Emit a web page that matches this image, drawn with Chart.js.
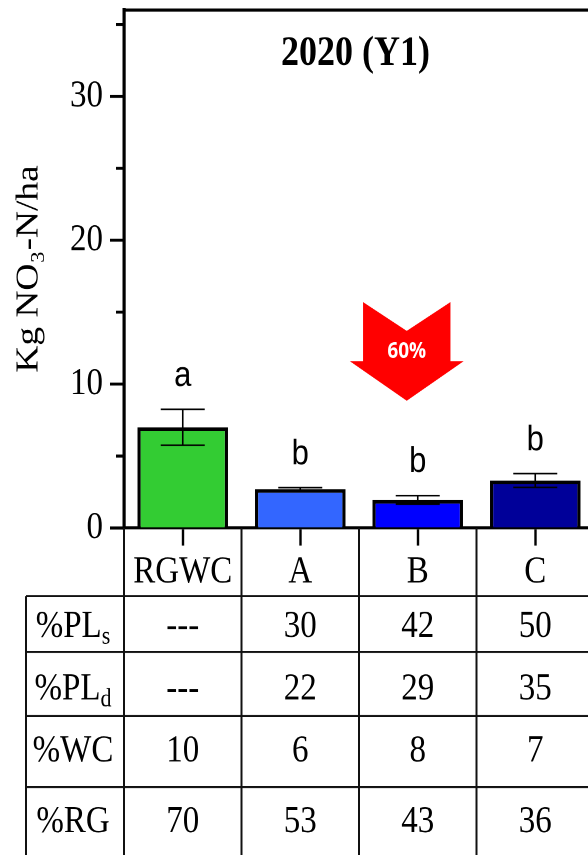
<!DOCTYPE html>
<html><head><meta charset="utf-8">
<script src="https://cdn.jsdelivr.net/npm/chart.js@4.4.1/dist/chart.umd.min.js"></script>
<style>
html,body{margin:0;padding:0;background:#fff;}
body{width:588px;height:855px;overflow:hidden;position:relative;}
#wrap{position:absolute;left:0;top:0;width:620px;height:731px;transform-origin:0 0;transform:scaleY(1.16963);}
</style></head><body>
<div id="wrap"><canvas id="c"></canvas></div>
<script>
// ---- data ----
const categories = ['RGWC', 'A', 'B', 'C'];
const nitrateValues = [7.0, 2.7, 1.95, 3.3];
const nitrateErrors = [1.25, 0.1, 0.3, 0.48];
const significanceLetters = ['a', 'b', 'b', 'b'];
const barColors = ['#33CC33', '#3366FF', '#0000FF', '#000099'];
const yTickValues = [0, 10, 20, 30];
const chartTitle = '2020 (Y1)';
const yAxisTitle = 'Kg NO\u2083-N/ha';
const reductionLabel = '60%';
const tableRowLabels = [['%PL', 's'], ['%PL', 'd'], ['%WC', ''], ['%RG', '']];
const plsRow = ['---', '30', '42', '50'];
const pldRow = ['---', '22', '29', '35'];
const wcRow = ['10', '6', '8', '7'];
const rgRow = ['70', '53', '43', '36'];
const tableRows = [plsRow, pldRow, wcRow, rgRow];

// ---- layout (canvas units) ----
const SERIF = '"Liberation Serif", "Times New Roman", serif';
const SANS = '"Liberation Sans", Arial, sans-serif';
const CANVAS_H = 731;
const PLOT_TOP = 8.55, PLOT_BOTTOM = 451.4;
const TABLE_LEFT = 26;
const ROW_LINES = [509.6, 557.4, 612.2, 672.9];
const ROW_BASELINES = [544.4, 597.9, 651.2, 711.6];
const ROW_LABEL_X = 73;

const frameAndTicks = {
  id: 'frameAndTicks',
  afterDraw(chart) {
    const ctx = chart.ctx, y = chart.scales.y, a = chart.chartArea;
    ctx.save();
    ctx.strokeStyle = '#000';
    ctx.lineWidth = 2.6;
    ctx.beginPath();
    ctx.moveTo(a.left - 1.5, a.top); ctx.lineTo(a.right + 10, a.top);
    for (let v = 0; v <= 35; v += 5) {
      const py = y.getPixelForValue(v);
      const len = yTickValues.includes(v) ? 14 : 8;
      ctx.moveTo(a.left - len, py); ctx.lineTo(a.left, py);
    }
    ctx.stroke();
    // title
    ctx.fillStyle = '#000';
    ctx.font = 'bold 36px ' + SERIF;
    ctx.textAlign = 'center';
    ctx.textBaseline = 'alphabetic';
    ctx.fillText(chartTitle, (a.left + a.right) / 2 - 3.5, 55.6);
    ctx.restore();
  }
};

const errorBars = {
  id: 'errorBars',
  afterDatasetsDraw(chart) {
    const ctx = chart.ctx, meta = chart.getDatasetMeta(0), y = chart.scales.y, x = chart.scales.x;
    ctx.save();
    ctx.strokeStyle = '#000';
    meta.data.forEach((bar, i) => {
      const top = y.getPixelForValue(nitrateValues[i] + nitrateErrors[i]);
      const bot = y.getPixelForValue(nitrateValues[i] - nitrateErrors[i]);
      const hw = 22;
      ctx.lineWidth = 1.6;
      ctx.beginPath();
      ctx.moveTo(bar.x, top); ctx.lineTo(bar.x, bot); ctx.stroke();
      ctx.lineWidth = 1.4;
      ctx.beginPath();
      ctx.moveTo(bar.x - hw, top); ctx.lineTo(bar.x + hw, top);
      ctx.moveTo(bar.x - hw, bot); ctx.lineTo(bar.x + hw, bot);
      ctx.stroke();
      ctx.fillStyle = '#000';
      ctx.font = '31px ' + SANS;
      ctx.textAlign = 'center';
      ctx.textBaseline = 'alphabetic';
      ctx.fillText(significanceLetters[i], bar.x, top - 20);
    });
    // reduction arrow
    const cx = x.getPixelForValue(2) - 11;
    const pTop = y.getPixelForValue(15.7), pNotch = y.getPixelForValue(13.7);
    const pShoulder = y.getPixelForValue(11.6), pTip = y.getPixelForValue(8.84);
    ctx.fillStyle = '#FF0000';
    ctx.beginPath();
    ctx.moveTo(cx - 43.7, pTop);
    ctx.lineTo(cx, pNotch);
    ctx.lineTo(cx + 43.7, pTop);
    ctx.lineTo(cx + 43.7, pShoulder);
    ctx.lineTo(cx + 57, pShoulder);
    ctx.lineTo(cx, pTip);
    ctx.lineTo(cx - 57, pShoulder);
    ctx.lineTo(cx - 43.7, pShoulder);
    ctx.closePath();
    ctx.fill();
    ctx.fillStyle = '#FFFFFF';
    ctx.font = 'bold 19px "Open Sans", ' + SANS;
    ctx.textAlign = 'center';
    ctx.textBaseline = 'alphabetic';
    ctx.fillText(reductionLabel, cx, y.getPixelForValue(11.8));
    ctx.restore();
  }
};

const tablePlugin = {
  id: 'table',
  afterDraw(chart) {
    const ctx = chart.ctx, x = chart.scales.x, a = chart.chartArea;
    ctx.save();
    ctx.strokeStyle = '#111';
    ctx.lineWidth = 1.7;
    ctx.beginPath();
    ROW_LINES.forEach(ly => { ctx.moveTo(TABLE_LEFT, ly); ctx.lineTo(640, ly); });
    ctx.stroke();
    ctx.lineWidth = 2;
    ctx.beginPath();
    ctx.moveTo(TABLE_LEFT, ROW_LINES[0]); ctx.lineTo(TABLE_LEFT, CANVAS_H);
    for (let k = 0; k <= categories.length; k++) {
      const px = x.getPixelForValue(k - 0.5);
      ctx.moveTo(px, a.bottom); ctx.lineTo(px, CANVAS_H);
    }
    ctx.stroke();
    ctx.fillStyle = '#000';
    ctx.textBaseline = 'alphabetic';
    tableRows.forEach((row, r) => {
      const base = ROW_BASELINES[r];
      const [main, sub] = tableRowLabels[r];
      ctx.font = '33px ' + SERIF;
      const wMain = ctx.measureText(main).width;
      ctx.font = '22px ' + SERIF;
      const wSub = sub ? ctx.measureText(sub).width : 0;
      const start = ROW_LABEL_X - (wMain + wSub) / 2;
      ctx.textAlign = 'left';
      ctx.font = '33px ' + SERIF;
      ctx.fillText(main, start, base);
      if (sub) { ctx.font = '22px ' + SERIF; ctx.fillText(sub, start + wMain, base + 6); }
      ctx.textAlign = 'center';
      ctx.font = '33px ' + SERIF;
      row.forEach((val, c) => ctx.fillText(val, x.getPixelForValue(c), base));
    });
    ctx.restore();
  }
};

new Chart(document.getElementById('c'), {
  type: 'bar',
  data: {
    labels: categories,
    datasets: [{
      data: nitrateValues,
      backgroundColor: barColors,
      borderColor: '#000',
      borderWidth: 3.2,
      barPercentage: 0.77,
      categoryPercentage: 1.0
    }]
  },
  options: {
    responsive: true,
    maintainAspectRatio: false,
    animation: false,
    devicePixelRatio: 2,
    layout: { padding: { top: PLOT_TOP, right: 26, left: 0, bottom: 0 } },
    plugins: { legend: { display: false }, tooltip: { enabled: false }, title: { display: false } },
    scales: {
      x: {
        type: 'category',
        offset: true,
        grid: { display: true, drawOnChartArea: false, offset: false, tickLength: 15, tickWidth: 2.4, tickColor: '#000' },
        border: { display: true, color: '#000', width: 2.6 },
        ticks: { color: '#000', font: { family: SERIF, size: 33 }, padding: 3, maxRotation: 0, autoSkip: false },
        afterFit(s) { s.height = CANVAS_H - PLOT_BOTTOM; s.paddingLeft = 0; s.paddingRight = 0; }
      },
      y: {
        min: 0,
        max: 36,
        grid: { display: true, drawOnChartArea: false, drawTicks: false },
        border: { display: true, color: '#000', width: 3.2 },
        ticks: {
          stepSize: 5, includeBounds: false, autoSkip: false,
          color: '#000', font: { family: SERIF, size: 33 }, padding: 21,
          callback: v => yTickValues.includes(v) ? String(v) : ''
        },
        title: { display: true, text: yAxisTitle, color: '#000', font: { family: SERIF, size: 32 }, padding: { top: 10, bottom: 0 } },
        afterFit(s) { s.width = 124; s.paddingTop = 0; s.paddingBottom = 0; }
      }
    }
  },
  plugins: [frameAndTicks, errorBars, tablePlugin]
});
</script>
</body></html>
